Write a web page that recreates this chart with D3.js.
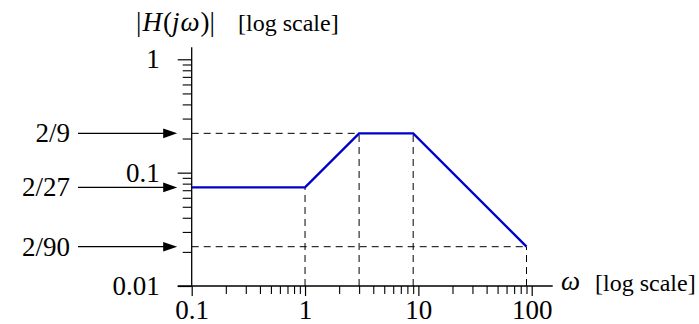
<!DOCTYPE html>
<html><head><meta charset="utf-8">
<script src="https://cdn.jsdelivr.net/npm/d3@7"></script>
<style>
html,body{margin:0;padding:0;background:#fff;}
svg{display:block;}
text{font-family:"Liberation Serif","Times New Roman",serif;fill:#000;}
</style></head>
<body>
<svg id="chart" width="699" height="324"></svg>
<script>
// ---- data ----
const breakFreqs = [0.1, 1, 3, 9, 90];
const breakMags = [2/27, 2/27, 2/9, 2/9, 2/90];
const markedLevels = [2/9, 2/27, 2/90];
const markedLabels = ["2/9", "2/27", "2/90"];
const guideVerticalIdx = [1, 2, 3, 4];      // break points with vertical dashed guides
const guideHorizontalIdx = [2, 4];           // break points with horizontal dashed guides
const xMajorTicks = [0.1, 1, 10, 100];
const xMajorLabels = ["0.1", "1", "10", "100"];
const yMajorTicks = [0.01, 0.1, 1];
const yMajorLabels = ["0.01", "0.1", "1"];

// ---- layout ----
const svg = d3.select("#chart");
const x = d3.scaleLog().domain([0.1, 100]).range([191.7, 531.7]);
const y = d3.scaleLog().domain([0.01, 1]).range([286, 59.3]);
const FS = 27;

const isMajor = v => Math.abs(Math.log10(v) - Math.round(Math.log10(v))) < 1e-9;
const xMinor = x.ticks().filter(v => !isMajor(v));
const yMinor = y.ticks().filter(v => !isMajor(v));

// dashed guides
const g = svg.append("g").attr("stroke", "#000").attr("stroke-width", 1).attr("stroke-dasharray", "7,5").attr("fill", "none");
guideVerticalIdx.forEach(i => {
  g.append("line").attr("x1", x(breakFreqs[i])).attr("x2", x(breakFreqs[i]))
    .attr("y1", y(0.01)).attr("y2", y(breakMags[i]));
});
guideHorizontalIdx.forEach(i => {
  g.append("line").attr("x1", x(0.1)).attr("x2", x(breakFreqs[i]))
    .attr("y1", y(breakMags[i])).attr("y2", y(breakMags[i]));
});

// x axis
const xMinorAxis = d3.axisBottom(x).tickValues(xMinor).tickSize(8).tickFormat("");
svg.append("g").attr("transform", `translate(0,${y(0.01)})`).call(xMinorAxis)
  .call(s => s.select(".domain").remove())
  .call(s => s.selectAll("line").attr("stroke", "#000").attr("stroke-width", 1.1));
const xAxis = d3.axisBottom(x).tickValues(xMajorTicks).tickSize(10).tickPadding(4)
  .tickFormat((d, i) => xMajorLabels[i]);
svg.append("g").attr("transform", `translate(0,${y(0.01)})`).call(xAxis)
  .call(s => s.select(".domain").remove())
  .call(s => s.selectAll("line").attr("stroke", "#000").attr("stroke-width", 1.2))
  .call(s => s.selectAll("text").attr("font-size", FS).attr("font-family", "Liberation Serif"));

// y axis
const yMinorAxis = d3.axisLeft(y).tickValues(yMinor).tickSize(9).tickFormat("");
svg.append("g").attr("transform", `translate(${x(0.1)},0)`).call(yMinorAxis)
  .call(s => s.select(".domain").remove())
  .call(s => s.selectAll("line").attr("stroke", "#000").attr("stroke-width", 1.1));
const yAxis = d3.axisLeft(y).tickValues(yMajorTicks).tickSize(14).tickPadding(18)
  .tickFormat((d, i) => yMajorLabels[i]);
svg.append("g").attr("transform", `translate(${x(0.1)},0)`).call(yAxis)
  .call(s => s.select(".domain").remove())
  .call(s => s.selectAll("line").attr("stroke", "#000").attr("stroke-width", 1.2))
  .call(s => s.selectAll("text").attr("font-size", FS).attr("font-family", "Liberation Serif"));

// axis lines
svg.append("line").attr("x1", x(0.1) - 14).attr("x2", x(100) + 21)
  .attr("y1", y(0.01)).attr("y2", y(0.01)).attr("stroke", "#000").attr("stroke-width", 1.3);
svg.append("line").attr("x1", x(0.1)).attr("x2", x(0.1))
  .attr("y1", y(0.01)).attr("y2", y(1) - 12).attr("stroke", "#000").attr("stroke-width", 1.3);

// magnitude asymptote
svg.append("path")
  .datum(breakFreqs.map((w, i) => [w, breakMags[i]]))
  .attr("fill", "none").attr("stroke", "#0000cc").attr("stroke-width", 2.4)
  .attr("stroke-linejoin", "miter")
  .attr("d", d3.line().x(d => x(d[0])).y(d => y(d[1])));

// level arrows
const ax0 = 78, axTip = x(0.1) - 14.5;
markedLevels.forEach((v, i) => {
  const yy = y(v);
  svg.append("line").attr("x1", ax0).attr("x2", axTip - 10).attr("y1", yy).attr("y2", yy)
    .attr("stroke", "#000").attr("stroke-width", 1.2);
  svg.append("path").attr("d", `M${axTip},${yy} L${axTip - 14},${yy - 4.8} L${axTip - 14},${yy + 4.8} Z`).attr("fill", "#000");
  svg.append("text").attr("x", 70).attr("y", yy).attr("dy", "0.33em")
    .attr("text-anchor", "end").attr("font-size", FS).text(markedLabels[i]);
});

// axis titles
const t = svg.append("text").attr("x", 136).attr("y", 31).attr("font-size", FS);
t.append("tspan").text("|");
t.append("tspan").attr("font-style", "italic").attr("dx", 1).text("H");
t.append("tspan").attr("dx", 1).text("(");
t.append("tspan").attr("font-style", "italic").text("j");
t.append("tspan").attr("font-style", "italic").attr("dx", 1).text("ω");
t.append("tspan").attr("dx", 1).text(")|");
svg.append("text").attr("x", 238).attr("y", 31).attr("font-size", 24).text("[log scale]");

svg.append("text").attr("x", 561).attr("y", 290).attr("font-size", FS).attr("font-style", "italic").text("ω");
svg.append("text").attr("x", 595).attr("y", 291).attr("font-size", 24).text("[log scale]");
</script>
</body></html>
